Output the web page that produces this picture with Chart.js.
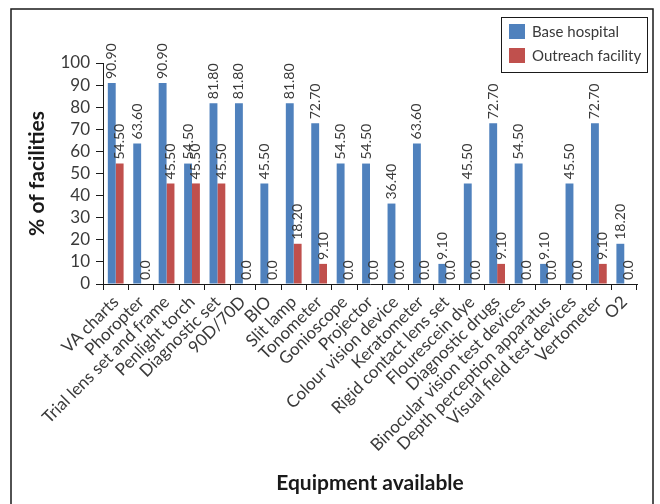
<!DOCTYPE html>
<html>
<head>
<meta charset="utf-8">
<script src="https://cdn.jsdelivr.net/npm/chart.js@4.4.1/dist/chart.umd.min.js"></script>
<style>
  html, body { margin: 0; padding: 0; background: #ffffff; }
  #wrap { position: relative; width: 660px; height: 504px; }
</style>
</head>
<body>
<div id="wrap"><canvas id="chart" width="660" height="504"></canvas></div>
<script>
// Equipment categories along the x axis
const categories = [
  'VA charts', 'Phoropter', 'Trial lens set and frame', 'Penlight torch',
  'Diagnostic set', '90D/70D', 'BIO', 'Slit lamp', 'Tonometer', 'Gonioscope',
  'Projector', 'Colour vision device', 'Keratometer', 'Rigid contact lens set',
  'Flourescein dye', 'Diagnostic drugs', 'Binocular vision test devices',
  'Depth perception apparatus', 'Visual field test devices', 'Vertometer', 'O2'
];

// % of facilities with each item
const baseHospital = [
  90.9, 63.6, 90.9, 54.5, 81.8, 81.8, 45.5, 81.8, 72.7, 54.5,
  54.5, 36.4, 63.6, 9.1, 45.5, 72.7, 54.5, 9.1, 45.5, 72.7, 18.2
];
const outreachFacility = [
  54.5, 0, 45.5, 45.5, 45.5, 0, 0, 18.2, 9.1, 0,
  0, 0, 0, 0, 0, 9.1, 0, 0, 0, 9.1, 0
];

const seriesNames = ['Base hospital', 'Outreach facility'];
const yTicks = [0, 10, 20, 30, 40, 50, 60, 70, 80, 90, 100];

const FONT = 'Lato, "Open Sans", sans-serif';
const TEXT = '#3a3a3a';

function formatValue(v) {
  return v === 0 ? '0.0' : v.toFixed(2);
}

// Outer frame around the whole figure
const framePlugin = {
  id: 'frame',
  beforeDraw(chart) {
    const ctx = chart.ctx;
    ctx.save();
    ctx.fillStyle = '#ffffff';
    ctx.fillRect(0, 0, chart.width, chart.height);
    ctx.strokeStyle = '#1a1a1a';
    ctx.lineWidth = 1.5;
    ctx.strokeRect(11, 9, 642, 520);
    ctx.restore();
  }
};

// Vertical value labels above each bar
const valueLabelPlugin = {
  id: 'valueLabels',
  afterDatasetsDraw(chart) {
    const ctx = chart.ctx;
    ctx.save();
    ctx.font = '14px ' + FONT;
    ctx.fillStyle = TEXT;
    ctx.textAlign = 'left';
    ctx.textBaseline = 'middle';
    chart.data.datasets.forEach((ds, di) => {
      const meta = chart.getDatasetMeta(di);
      meta.data.forEach((bar, i) => {
        ctx.save();
        ctx.translate(bar.x, bar.y - 4);
        ctx.rotate(-Math.PI / 2);
        ctx.fillText(formatValue(ds.data[i]), 0, 0);
        ctx.restore();
      });
    });
    ctx.restore();
  }
};

// Boxed legend in the upper-right corner
const boxLegendPlugin = {
  id: 'boxLegend',
  afterDraw(chart) {
    const ctx = chart.ctx;
    const x0 = 501, y0 = 17, w = 146, h = 55;
    ctx.save();
    ctx.fillStyle = '#ffffff';
    ctx.fillRect(x0, y0, w, h);
    ctx.strokeStyle = '#1a1a1a';
    ctx.lineWidth = 1;
    ctx.strokeRect(x0 + 0.5, y0 + 0.5, w, h);
    ctx.font = '15px ' + FONT;
    ctx.textAlign = 'left';
    ctx.textBaseline = 'middle';
    chart.data.datasets.forEach((ds, i) => {
      const cy = 32 + i * 24;
      ctx.fillStyle = ds.backgroundColor;
      ctx.fillRect(509, cy - 8, 16, 15);
      ctx.fillStyle = TEXT;
      ctx.fillText(ds.label, 532, cy);
    });
    ctx.restore();
  }
};

new Chart(document.getElementById('chart'), {
  type: 'bar',
  data: {
    labels: categories,
    datasets: [
      { label: seriesNames[0], data: baseHospital, backgroundColor: '#4F81BD' },
      { label: seriesNames[1], data: outreachFacility, backgroundColor: '#C0504D' }
    ]
  },
  options: {
    responsive: false,
    animation: false,
    events: [],
    categoryPercentage: 0.62,
    barPercentage: 1.0,
    layout: { padding: { left: 11, top: 63, right: 23, bottom: 0 } },
    plugins: {
      legend: { display: false },
      tooltip: { enabled: false }
    },
    scales: {
      x: {
        offset: true,
        grid: {
          display: true,
          offset: true,
          drawOnChartArea: false,
          drawTicks: true,
          tickLength: 6,
          color: '#1a1a1a'
        },
        border: { display: true, color: '#1a1a1a', width: 1 },
        ticks: {
          autoSkip: false,
          minRotation: 45,
          maxRotation: 45,
          padding: 2,
          color: TEXT,
          font: { family: FONT, size: 17 }
        },
        title: {
          display: true,
          text: 'Equipment available',
          color: '#1a1a1a',
          font: { family: FONT, size: 21, weight: 'bold' },
          padding: { top: 0, bottom: 8 }
        },
        afterFit(scale) { scale.height = 220; }
      },
      y: {
        min: 0,
        max: 100,
        afterBuildTicks(scale) { scale.ticks = yTicks.map(v => ({ value: v })); },
        grid: {
          display: true,
          drawOnChartArea: false,
          drawTicks: true,
          tickLength: 7,
          color: '#1a1a1a'
        },
        border: { display: true, color: '#1a1a1a', width: 1 },
        ticks: {
          autoSkip: false,
          padding: 6,
          color: TEXT,
          font: { family: FONT, size: 17 }
        },
        title: {
          display: true,
          text: '% of facilities',
          color: '#1a1a1a',
          font: { family: FONT, size: 21, weight: 'bold' },
          padding: { top: 14, bottom: 0 }
        },
        afterFit(scale) { scale.width = 92; }
      }
    }
  },
  plugins: [framePlugin, valueLabelPlugin, boxLegendPlugin]
});
</script>
</body>
</html>
